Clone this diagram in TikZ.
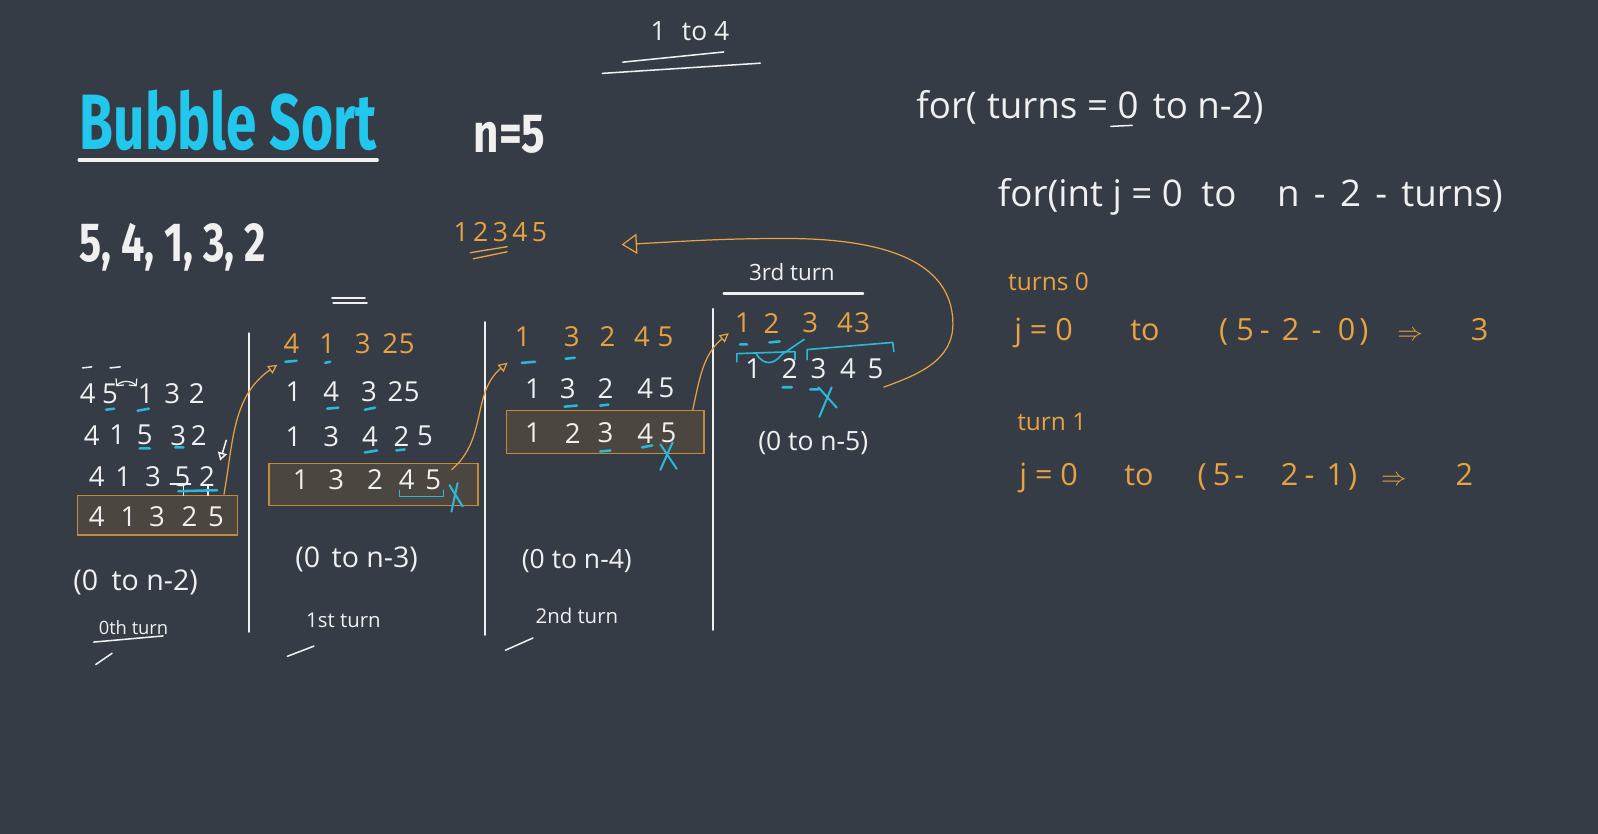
\documentclass[tikz,border=0pt]{standalone}
\usepackage{fontspec}
\setmainfont{Open Sans}
\newfontfamily\boardfont[FakeStretch=0.7]{Fira Sans}
\newfontfamily\headfont[FakeStretch=0.8]{Fira Sans}
\newfontfamily\listfont[FakeStretch=0.75]{Fira Sans}
\usepackage{xcolor}
\usetikzlibrary{arrows.meta}
\definecolor{board}{HTML}{363C45}
\definecolor{chalk}{HTML}{F0F0F0}
\definecolor{chalkor}{HTML}{E6A243}
\definecolor{titlecyan}{HTML}{22C7EE}
\definecolor{markcyan}{HTML}{2AB7DA}
\definecolor{boxfill}{HTML}{4B4640}
\definecolor{boxedge}{HTML}{C48A3C}
\newcommand\hand[1]{\fontsize{#1}{#1}\selectfont}

\begin{document}
\begin{tikzpicture}[
  x=1pt, y=-1pt,
  digit/.style={text=chalk, inner sep=0pt, font=\hand{27}},
  odigit/.style={digit, text=chalkor},
  note/.style={text=chalk, inner sep=0pt, font=\hand{26}},
  onote/.style={note, text=chalkor},
  code/.style={note, anchor=base west, font=\hand{36}},
  ocode/.style={code, text=chalkor, font=\hand{30}},
  passbox/.style={draw=boxedge, fill=boxfill, line width=1.5pt, inner sep=0pt},
  chalkline/.style={draw=chalk, line width=1.5pt, line cap=round},
  cyanbar/.style={draw=markcyan, line width=2.5pt, line cap=round},
  cyanline/.style={draw=markcyan, line width=1.6pt, line cap=round, line join=round},
  flow/.style={draw=chalkor, line width=1.2pt, -{Triangle[open, length=9pt, width=9pt]}}
]
\fill[board] (0,0) rectangle (1568,818);

\node[text=titlecyan, font=\boardfont\bfseries\hand{77}, inner sep=0pt, anchor=base west] (title) at (78,147) {Bubble Sort};
\draw[chalk, line width=4pt, line cap=round] ([yshift=-10pt]title.base west) -- ([yshift=-10pt]title.base east);
\node[text=chalk, font=\headfont\bfseries\hand{54}, inner sep=0pt, anchor=base] (nval) at (500,150) {n=5};
\node[text=chalk, font=\listfont\bfseries\hand{54}, inner sep=0pt, anchor=base west] (input) at (78,257) {5, 4, 1, 3, 2};

\node[note] (span) at (677,31) {1\hspace{16pt}to 4};
\draw[chalkline] (611,61) -- (710,51) (591,72) -- (746,62);
\node[onote, font=\hand{26}] (sorted) at (491,228) {1\,2\,3\,4\,5};
\draw[draw=chalkor, line width=1.3pt] (461,248) -- (498,242) (464,254) -- (498,247);
\draw[chalkline, line width=2pt] (326,292) -- (358,292) (327,297) -- (360,297);

\draw[chalkline, line width=2pt] (244,327) -- (244,620) (476,316) -- (476,623) (700,303) -- (700,618);

% 0th turn
\draw[chalkline] (81,361) -- (90,360) (108,361) -- (118,360);
\foreach \x/\d [count=\i] in {86/4,108/5,143/1,169/3,193/2} \node[digit] (p0a\i) at (\x,386) {\d};
\foreach \x/\d [count=\i] in {90/4,115/1,142/5,175/3,195/2} \node[digit] (p0b\i) at (\x,427) {\d};
\foreach \x/\d [count=\i] in {95/4,121/1,150/3,179/5,203/2} \node[digit] (p0c\i) at (\x,468) {\d};
\node[passbox, minimum width=157, minimum height=39] (box0) at (154.5,505.5) {};
\foreach \x/\d [count=\i] in {95/4,126/1,154/3,186/2,212/5} \node[digit] (b0d\i) at (\x,507) {\d};
\draw[chalkline, line width=1.2pt, {Straight Barb[length=5pt]}-{Straight Barb[length=5pt]}] ([xshift=-2pt,yshift=-3pt]p0a2.north east) to[bend left=50] ([xshift=-1pt,yshift=-3pt]p0a3.north west);
\draw[cyanbar] (104,402) -- (112,401) (135,403) -- (146,401) (137,440) -- (147,440) (172,439) -- (180,439);
\draw[chalkline] (167,475) -- (187,475) (180,475) -- (180,486) (204,477) -- (204,486);
\draw[cyanbar] (175,482) -- (213,481);
\draw[chalkline, -{Triangle[open, length=8pt, width=9pt]}] (222,432) -- (216,452);
\node[note, font=\hand{28}] (range0) at (133,571) {(0\hspace{6pt} to n-2)};
\node[note, font=\hand{18}] (turn0) at (131,616) {0th turn};
\draw[chalkline] (92,630) -- (160,624) (94,652) -- (110,641);

% 1st turn
\foreach \x/\d [count=\i] in {286/4,321/1,356/3,383/2,399/5} \node[odigit] (p1o\i) at (\x,337) {\d};
\foreach \x/\d [count=\i] in {288/1,325/4,362/3,388/2,404/5} \node[digit] (p1a\i) at (\x,384) {\d};
\foreach \x/\d [count=\i] in {288/1,325/3,363/4,394/2,417/5} \node[digit] (p1b\i) at (\x,428) {\d};
\node[passbox, minimum width=205, minimum height=41] (box1) at (366.5,475.5) {};
\foreach \x/\d [count=\i] in {295/1,330/3,368/2,399/4,425/5} \node[digit] (b1d\i) at (\x,471) {\d};
\draw[cyanbar] (280,355) -- (291,354) (319,356) -- (324,355) (321,401) -- (332,400) (358,402) -- (368,400) (358,444) -- (370,442) (389,442) -- (397,441);
\draw[cyanline] (392,481) -- (392,487) -- (435,487) -- (435,481);
\draw[cyanline, line width=2pt] (441,476) -- (454,497) (449,474) -- (443,502);
\draw[flow] ([xshift=-14pt]box0.north east) to[out=80,in=215] ([xshift=-6pt,yshift=-11pt]p1o1.south west);
\node[note, font=\hand{28}] (range1) at (350,549) {(0\hspace{4pt} to n-3)};
\node[note, font=\hand{20}] (turn1) at (337,609) {1st turn};
\draw[chalkline] (282,644) -- (308,634);

% 2nd turn
\foreach \x/\d [count=\i] in {513/1,561/3,596/2,630/4,653/5} \node[odigit] (p2o\i) at (\x,330) {\d};
\foreach \x/\d [count=\i] in {523/1,557/3,594/2,633/4,654/5} \node[digit] (p2a\i) at (\x,381) {\d};
\node[passbox, minimum width=194, minimum height=42] (box2) at (594,424) {};
\foreach \x/\d [count=\i] in {523/1,562/2,594/3,633/4,656/5} \node[digit] (b2d\i) at (\x,425) {\d};
\draw[cyanbar] (512,356) -- (525,355) (555,352) -- (564,351) (554,399) -- (566,398) (589,398) -- (597,397) (589,443) -- (599,442) (630,439) -- (640,437);
\draw[cyanline, line width=2pt] (648,436) -- (664,460) (660,434) -- (648,461);
\draw[flow] ([xshift=10pt]b1d5.north east) to[out=40,in=220] ([xshift=-7pt,yshift=-16pt]p2o1.south west);
\node[note, font=\hand{26}] (range2) at (566,550) {(0 to n-4)};
\node[note, font=\hand{20}] (turn2) at (566,604) {2nd turn};
\draw[chalkline] (496,638) -- (523,626);

% 3rd turn
\node[note, font=\hand{22}] (turn3) at (777,267) {3rd turn};
\draw[chalkline, line width=2pt] (710,288) -- (847,288);
\foreach \x/\d [count=\i] in {729/1,757/2,795/3,829/4,846/3} \node[odigit] (p3o\i) at (\x,317) {\d};
\foreach \x/\d [count=\i] in {739/1,775/2,803/3,832/4,859/5} \node[digit] (p3a\i) at (\x,362) {\d};
\draw[cyanbar] (726,338) -- (733,338) (755,336) -- (765,335) (768,380) -- (777,380) (795,382) -- (803,382);
\draw[cyanline] (723,355) -- (723,347) -- (780,345) -- (780,353);
\draw[cyanline] (742,347) .. controls (750,360) and (760,357) .. (767,348) -- (789,333);
\draw[cyanline] (792,353) -- (792,343) -- (876,336) -- (877,345);
\draw[cyanline, line width=2pt] (803,380) -- (821,400) (816,380) -- (804,409);
\draw[flow] ([xshift=-12pt]box2.north east) to[out=78,in=220] ([xshift=-6pt]p3o1.south west);
\node[note, font=\hand{26}] (range3) at (798,435) {(0 to n-5)};
\coordinate (sweep) at (935,318);
\coordinate (crest) at (770,234);
\coordinate (goal) at (610,240);
\draw[flow, -{Triangle[open, length=15pt, width=20pt]}] ([yshift=-8pt]p3a5.south east) to[out=20,in=-90] (sweep) to[out=90,in=0] (crest) to[out=180,in=3] (goal);

% loops
\node[code] (outer) at (899,116) {for(\hspace{10pt}turns = 0\hspace{14pt}to n-2)};
\draw[chalkline] (1090,124) -- (1111,123);
\node[code] (inner) at (979,203) {for(int j = 0\hspace{18pt}to\hspace{40pt}n\hspace{14pt}-\hspace{14pt}2\hspace{14pt}-\hspace{14pt}turns)};
\node[onote, font=\hand{24}, anchor=base west] (pass0) at (989,285) {turns 0};
\node[ocode] (jz0) at (995,334) {j = 0};
\node[ocode] (to0) at (1109,334) {to};
\node[ocode] (bound0) at (1196,334) {(\hspace{8pt}5\hspace{6pt}-\hspace{12pt}2\hspace{12pt}-\hspace{16pt}0\hspace{4pt})};
\node[ocode, font=\hand{38}] (imp0) at (1371,334) {$\Rightarrow$};
\node[ocode] (res0) at (1443,334) {3};
\node[onote, font=\hand{24}, anchor=base west] (pass1) at (998,422) {turn 1};
\node[ocode] (jz1) at (1000,476) {j = 0};
\node[ocode] (to1) at (1103,476) {to};
\node[ocode] (bound1) at (1175,476) {(\hspace{6pt}5\hspace{4pt}-\hspace{36pt}2\hspace{6pt}-\hspace{12pt}1\hspace{4pt})};
\node[ocode, font=\hand{38}] (imp1) at (1355,476) {$\Rightarrow$};
\node[ocode] (res1) at (1428,476) {2};
\end{tikzpicture}
\end{document}
